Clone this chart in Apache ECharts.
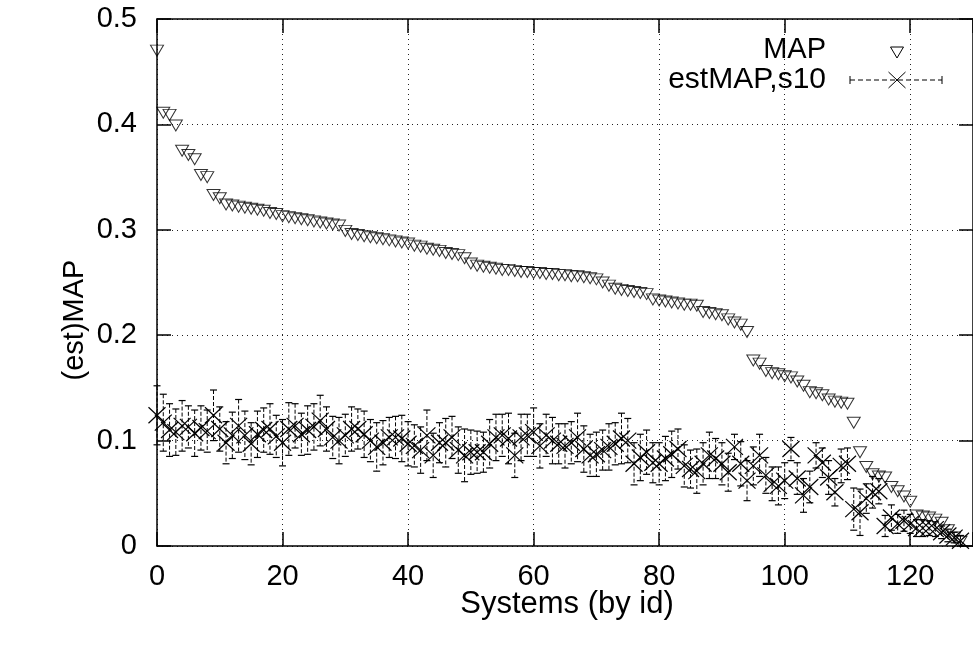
<!DOCTYPE html>
<html>
<head>
<meta charset="utf-8">
<script src="https://cdn.jsdelivr.net/npm/echarts@6/dist/echarts.min.js"></script>
<style>
html,body{margin:0;padding:0;background:#fff;}
#chart{width:973px;height:648px;}
</style>
</head>
<body>
<div id="chart"></div>
<script>
// ---- data ----
const mapValues = [
0.470,0.411,0.409,0.399,0.375,0.371,0.367,0.352,0.350,0.333,
0.330,0.324,0.323,0.322,0.321,0.320,0.319,0.318,0.316,0.315,
0.313,0.312,0.311,0.310,0.309,0.308,0.307,0.306,0.305,0.304,
0.299,0.296,0.295,0.294,0.293,0.292,0.291,0.290,0.289,0.288,
0.287,0.285,0.284,0.282,0.281,0.280,0.278,0.277,0.276,0.273,
0.268,0.266,0.265,0.264,0.263,0.262,0.262,0.261,0.260,0.260,
0.259,0.259,0.258,0.258,0.257,0.257,0.256,0.256,0.255,0.254,
0.253,0.250,0.247,0.244,0.243,0.242,0.241,0.240,0.239,0.234,
0.233,0.232,0.231,0.230,0.229,0.229,0.228,0.222,0.221,0.220,
0.219,0.215,0.212,0.210,0.203,0.176,0.173,0.166,0.164,0.163,
0.161,0.160,0.156,0.152,0.146,0.145,0.143,0.139,0.137,0.136,
0.135,0.117,0.089,0.075,0.068,0.066,0.065,0.056,0.052,0.047,
0.042,0.029,0.028,0.027,0.025,0.022,0.015,0.008,0.004
];
const estValues = [
0.124,0.117,0.110,0.108,0.114,0.113,0.107,0.112,0.109,0.124,
0.111,0.098,0.105,0.114,0.105,0.097,0.106,0.110,0.111,0.104,
0.098,0.111,0.114,0.106,0.110,0.113,0.119,0.111,0.103,0.100,
0.105,0.111,0.111,0.106,0.100,0.094,0.098,0.103,0.103,0.102,
0.097,0.095,0.091,0.105,0.086,0.098,0.098,0.103,0.091,0.086,
0.089,0.089,0.089,0.097,0.103,0.105,0.102,0.086,0.103,0.105,
0.108,0.095,0.105,0.100,0.097,0.095,0.098,0.103,0.092,0.086,
0.087,0.091,0.094,0.097,0.102,0.100,0.078,0.084,0.089,0.079,
0.078,0.083,0.087,0.092,0.076,0.073,0.071,0.078,0.086,0.083,
0.078,0.070,0.094,0.078,0.062,0.076,0.086,0.067,0.059,0.057,
0.062,0.092,0.064,0.048,0.056,0.086,0.079,0.065,0.051,0.076,
0.078,0.035,0.032,0.045,0.051,0.052,0.019,0.027,0.021,0.024,
0.021,0.017,0.017,0.017,0.016,0.013,0.010,0.008,0.005
];
const estErrors = [
0.028,0.027,0.025,0.022,0.024,0.020,0.022,0.021,0.020,0.024,
0.021,0.020,0.022,0.025,0.023,0.020,0.022,0.021,0.024,0.020,
0.022,0.025,0.021,0.020,0.023,0.022,0.024,0.021,0.020,0.022,
0.020,0.021,0.019,0.022,0.020,0.023,0.021,0.019,0.020,0.022,
0.021,0.020,0.022,0.024,0.021,0.019,0.023,0.020,0.022,0.025,
0.021,0.020,0.019,0.023,0.022,0.020,0.024,0.021,0.022,0.020,
0.023,0.021,0.020,0.022,0.019,0.021,0.020,0.023,0.022,0.020,
0.021,0.019,0.022,0.020,0.024,0.021,0.020,0.022,0.021,0.019,
0.020,0.021,0.022,0.019,0.020,0.018,0.021,0.020,0.022,0.019,
0.020,0.018,0.012,0.021,0.019,0.018,0.020,0.017,0.016,0.018,
0.017,0.011,0.015,0.016,0.015,0.012,0.014,0.016,0.013,0.016,
0.015,0.020,0.022,0.014,0.015,0.012,0.010,0.012,0.009,0.010,
0.009,0.008,0.008,0.007,0.007,0.006,0.006,0.005,0.005
];
const xTicks = [0, 20, 40, 60, 80, 100, 120];
const yTicks = [0, 0.1, 0.2, 0.3, 0.4, 0.5];
const xLabel = 'Systems (by id)';
const yLabel = '(est)MAP';
const legendNames = ['MAP', 'estMAP,s10'];

// ---- chart ----
const FONT = 'Liberation Sans, Arial, Helvetica, sans-serif';
const FS = 29;
const chart = echarts.init(document.getElementById('chart'), null, {renderer: 'canvas'});

const mapData = mapValues.map((v, i) => [i, v]);
const estData = estValues.map((v, i) => [i, v, estErrors[i]]);

const gridSplit = {show: true, lineStyle: {color: '#222', width: 1, type: [1, 4]}};

function renderErr(params, api) {
  const x = api.value(0), y = api.value(1), e = api.value(2);
  const c = api.coord([x, y]);
  const top = api.coord([x, y + e]);
  const bot = api.coord([x, y - e]);
  const cw = 3.5, s = 8.5, sh = 8;
  const st = {stroke: '#000', lineWidth: 1.2};
  return {
    type: 'group',
    children: [
      {type: 'line', shape: {x1: c[0], y1: top[1], x2: c[0], y2: bot[1]},
       style: {stroke: '#000', lineWidth: 1, lineDash: [4, 2]}},
      {type: 'line', shape: {x1: c[0] - cw, y1: top[1], x2: c[0] + cw, y2: top[1]}, style: st},
      {type: 'line', shape: {x1: c[0] - cw, y1: bot[1], x2: c[0] + cw, y2: bot[1]}, style: st},
      {type: 'line', shape: {x1: c[0] - s, y1: c[1] - sh, x2: c[0] + s, y2: c[1] + sh}, style: st},
      {type: 'line', shape: {x1: c[0] - s, y1: c[1] + sh, x2: c[0] + s, y2: c[1] - sh}, style: st}
    ]
  };
}

const option = {
  animation: false,
  backgroundColor: '#fff',
  grid: {left: 157, right: -8, top: 19, bottom: 102, containLabel: false},
  xAxis: [
    {type: 'value', min: 0, max: 130, interval: 20, position: 'bottom',
     axisLine: {show: true, onZero: false, lineStyle: {color: '#000', width: 1.5}},
     axisTick: {show: true, inside: true, length: 14, lineStyle: {color: '#000', width: 1.5}},
     axisLabel: {show: true, margin: 16, fontFamily: FONT, fontSize: FS, color: '#000',
       customValues: xTicks},
     splitLine: gridSplit},
    {type: 'value', min: 0, max: 130, interval: 20, position: 'top',
     axisLine: {show: true, onZero: false, lineStyle: {color: '#000', width: 1.5}},
     axisTick: {show: true, inside: true, length: 14, lineStyle: {color: '#000', width: 1.5}},
     axisLabel: {show: false}, splitLine: {show: false}}
  ],
  yAxis: [
    {type: 'value', min: 0, max: 0.5, interval: 0.1, position: 'left',
     axisLine: {show: true, onZero: false, lineStyle: {color: '#000', width: 1.5}},
     axisTick: {show: true, inside: true, length: 14, lineStyle: {color: '#000', width: 1.5}},
     axisLabel: {show: true, margin: 20, fontFamily: FONT, fontSize: FS, color: '#000',
       formatter: v => String(+v.toFixed(1))},
     splitLine: gridSplit},
    {type: 'value', min: 0, max: 0.5, interval: 0.1, position: 'right',
     axisLine: {show: true, onZero: false, lineStyle: {color: '#000', width: 1.5}},
     axisTick: {show: true, inside: true, length: 14, lineStyle: {color: '#000', width: 1.5}},
     axisLabel: {show: false}, splitLine: {show: false}}
  ],
  series: [
    {name: legendNames[0], type: 'scatter', data: mapData,
     symbol: 'path://M0,0L13,0L6.5,11Z', symbolSize: [13, 11],
     itemStyle: {color: 'rgba(0,0,0,0)', borderColor: '#000', borderWidth: 1},
     emphasis: {disabled: true}, z: 3},
    {name: legendNames[1], type: 'custom', data: estData, renderItem: renderErr,
     encode: {x: 0, y: 1}, z: 4}
  ],
  graphic: [
    {type: 'text', x: 567, y: 604,
     style: {text: xLabel, font: '31px ' + FONT, fill: '#000', align: 'center', verticalAlign: 'middle'}},
    {type: 'text', x: 75, y: 320, rotation: Math.PI / 2,
     style: {text: yLabel, font: FS + 'px ' + FONT, fill: '#000', align: 'center', verticalAlign: 'middle'}},
    {type: 'text', x: 826, y: 50,
     style: {text: legendNames[0], font: FS + 'px ' + FONT, fill: '#000', align: 'right', verticalAlign: 'middle'}},
    {type: 'text', x: 826, y: 80,
     style: {text: legendNames[1], font: '30px ' + FONT, fill: '#000', align: 'right', verticalAlign: 'middle'}},
    {type: 'polygon', shape: {points: [[890.5, 47], [903.5, 47], [897, 58]]},
     style: {fill: 'none', stroke: '#000', lineWidth: 1}},
    {type: 'line', shape: {x1: 850, y1: 80, x2: 942, y2: 80},
     style: {stroke: '#000', lineWidth: 1, lineDash: [5, 3]}},
    {type: 'line', shape: {x1: 850, y1: 76, x2: 850, y2: 84}, style: {stroke: '#000', lineWidth: 1}},
    {type: 'line', shape: {x1: 942, y1: 76, x2: 942, y2: 84}, style: {stroke: '#000', lineWidth: 1}},
    {type: 'line', shape: {x1: 888.5, y1: 72, x2: 905.5, y2: 88}, style: {stroke: '#000', lineWidth: 1}},
    {type: 'line', shape: {x1: 888.5, y1: 88, x2: 905.5, y2: 72}, style: {stroke: '#000', lineWidth: 1}}
  ]
};
chart.setOption(option);
</script>
</body>
</html>
